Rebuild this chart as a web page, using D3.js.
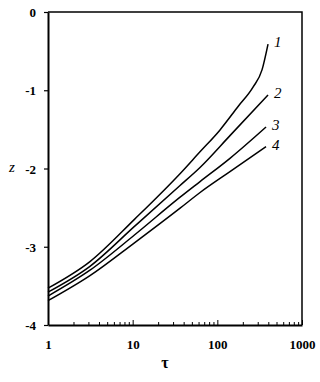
<!DOCTYPE html>
<html>
<head>
<meta charset="utf-8">
<script src="https://cdn.jsdelivr.net/npm/d3@7"></script>
<style>
  html, body { margin: 0; padding: 0; background: #fff; }
  svg { display: block; }
  svg text { font-family: 'Liberation Serif', 'Times New Roman', serif !important; fill: #000; }
</style>
</head>
<body>
<svg id="chart" width="320" height="382"></svg>
<script>
// ---- data ----
const xTickValues = [1, 10, 100, 1000];
const xTickLabels = ["1", "10", "100", "1000"];
const yTickValues = [0, -1, -2, -3, -4];
const yTickLabels = ["0", "-1", "-2", "-3", "-4"];
const curveNames = ["1", "2", "3", "4"];

const tau1 = [1, 3.13, 10.5, 36, 62, 107, 175, 264, 337, 397];
const z1   = [-3.53, -3.19, -2.65, -2.07, -1.79, -1.51, -1.21, -0.96, -0.74, -0.41];

const tau2 = [1, 3.13, 10.5, 36, 62, 141, 397];
const z2   = [-3.58, -3.25, -2.74, -2.22, -1.99, -1.58, -1.06];

const tau3 = [1, 3.13, 10.5, 36, 62, 141, 376];
const z3   = [-3.63, -3.30, -2.85, -2.37, -2.17, -1.87, -1.47];

const tau4 = [1, 3.13, 10.5, 36, 62, 141, 376];
const z4   = [-3.69, -3.37, -2.95, -2.51, -2.31, -2.04, -1.72];

const seriesTau = [tau1, tau2, tau3, tau4];
const seriesZ = [z1, z2, z3, z4];

// ---- layout ----
const svg = d3.select("#chart");
const mLeft = 48, mRight = 302, mTop = 12, mBottom = 325;

const x = d3.scaleLog().domain([1, 1000]).range([mLeft, mRight]);
const y = d3.scaleLinear().domain([0, -4]).range([mTop, mBottom]);

// frame (top and right lines)
svg.append("path")
  .attr("d", `M${mLeft},${mTop}H${mRight}V${mBottom}`)
  .attr("fill", "none").attr("stroke", "#000").attr("stroke-width", 1.5);

// y axis
const yAxis = d3.axisLeft(y).tickValues(yTickValues)
  .tickFormat((d, i) => yTickLabels[i]).tickSize(4).tickPadding(8).tickSizeOuter(0);
const gy = svg.append("g").attr("transform", `translate(${mLeft},0)`).call(yAxis);
gy.attr("font-family", null);
gy.select(".domain").attr("stroke-width", 2);
gy.selectAll(".tick line").attr("stroke-width", 1.2);
gy.selectAll("text").style("font-size", "13px").style("font-weight", "bold").attr("dy", "0.35em");

// x axis: minor ticks inward
const minor = [];
for (let dec = 1; dec < 1000; dec *= 10) for (let k = 2; k <= 9; k++) minor.push(dec * k);
const gx = svg.append("g").attr("transform", `translate(0,${mBottom})`);
gx.call(d3.axisBottom(x).tickValues(minor).tickSize(-3).tickFormat("").tickSizeOuter(0));
gx.call(g => g.selectAll(".domain").remove());
const gx2 = svg.append("g").attr("transform", `translate(0,${mBottom})`);
gx2.call(d3.axisBottom(x).tickValues(xTickValues).tickFormat((d, i) => xTickLabels[i])
  .tickSize(-5).tickPadding(15).tickSizeOuter(0));
gx2.attr("font-family", null);
gx2.select(".domain").attr("stroke-width", 2);
svg.selectAll("g.tick line").attr("stroke", "#000");
gx2.selectAll("text").style("font-size", "13px").style("font-weight", "bold");

// axis titles
svg.append("text").attr("x", 165).attr("y", 368).attr("text-anchor", "middle")
  .style("font-size", "16px").style("font-weight", "bold").text("τ");
svg.append("text").attr("x", 12).attr("y", 172).attr("text-anchor", "middle")
  .style("font-size", "15px").style("font-style", "italic").text("z");

// curves
const line = d3.line().x(d => x(d[0])).y(d => y(d[1])).curve(d3.curveMonotoneX);
seriesTau.forEach((ts, i) => {
  const pts = ts.map((t, j) => [t, seriesZ[i][j]]);
  svg.append("path").datum(pts).attr("d", line)
    .attr("fill", "none").attr("stroke", "#000").attr("stroke-width", 1.5);
  const last = pts[pts.length - 1];
  svg.append("text").attr("x", x(last[0]) + 6).attr("y", y(last[1]) + 3)
    .style("font-size", "15px").style("font-style", "italic").text(curveNames[i]);
});
</script>
</body>
</html>
